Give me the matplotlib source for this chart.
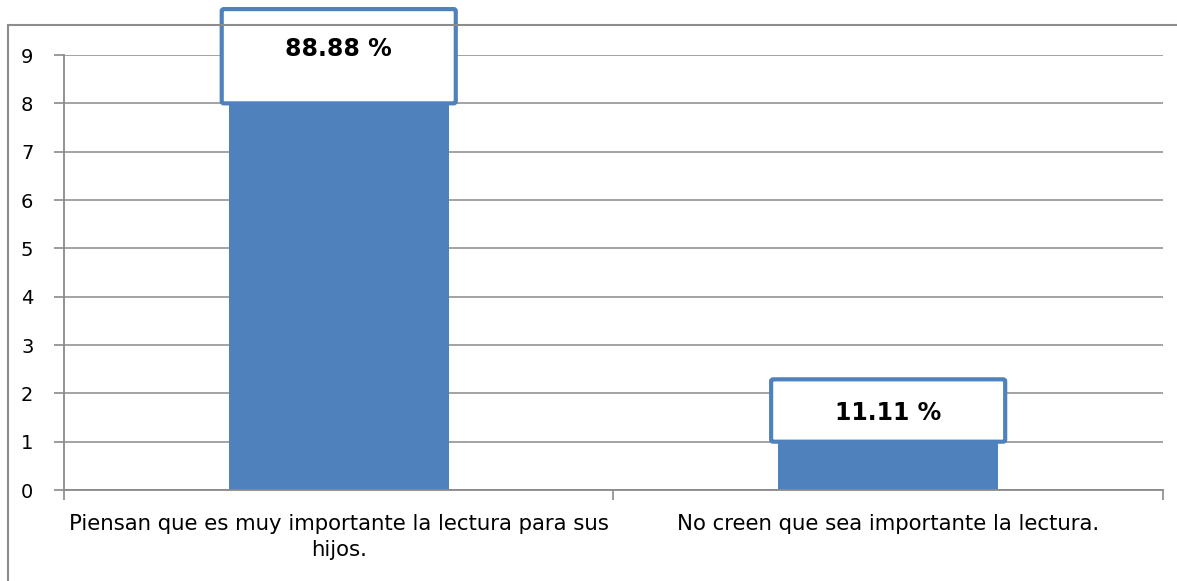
import matplotlib
matplotlib.use("Agg")
import matplotlib.pyplot as plt
from matplotlib.patches import FancyBboxPatch, Rectangle

categories = ["Piensan que es muy importante la lectura para sus\nhijos.",
              "No creen que sea importante la lectura."]
values = [8, 1]
labels = ["88.88 %", "11.11 %"]

bar_color = "#4F81BD"
grid_color = "#8a8a8a"

plt.rcParams['font.family'] = ['DejaVu Sans']

fig = plt.figure(figsize=(11.77, 5.81), dpi=100)
ax = fig.add_axes([0.0544, 0.1566, 0.988 - 0.0544, 0.9053 - 0.1566])

# outer chart frame
fig.patches.append(Rectangle((0.0068, -0.1), 1.1, 0.1 + (1 - 25 / 581), transform=fig.transFigure,
                             fill=False, edgecolor="#8c8c8c", linewidth=1.5))

x = list(range(len(values)))
ax.bar(x, values, width=0.4, color=bar_color, zorder=2)

# label boxes (top box taller, as in the original)
box_h = [1.95, 1.29]
text_off = [1.12, 0.6]
for xi, v, lab, bh, to in zip(x, values, labels, box_h, text_off):
    box = FancyBboxPatch((xi - 0.213, v), 0.426, bh, boxstyle="round,pad=0,rounding_size=0.004",
                         facecolor="white", edgecolor=bar_color, linewidth=3, zorder=4,
                         clip_on=False, mutation_aspect=10)
    ax.add_patch(box)
    ax.text(xi, v + to, lab, ha="center", va="center", fontsize=17, fontweight="bold",
            zorder=5, clip_on=False)

ax.set_xlim(-0.5, 1.5)
ax.set_ylim(0, 9)
ax.set_yticks(range(10))
ax.yaxis.grid(True, color=grid_color, linewidth=1.1, zorder=0)
ax.set_xticks([-0.5, 0.5, 1.5])
ax.set_xticklabels([])
ax.set_xticks(x, minor=True)
ax.set_xticklabels(categories, minor=True, fontsize=15.3, linespacing=1.4)
ax.tick_params(axis="x", which="minor", length=0, pad=17)
ax.tick_params(axis="x", which="major", length=7, width=1.2, color=grid_color, direction="out")
ax.tick_params(axis="y", length=7, width=1.2, color=grid_color, labelsize=14, pad=15)
for s in ["top", "right"]:
    ax.spines[s].set_visible(False)
for s in ["left", "bottom"]:
    ax.spines[s].set_color(grid_color)
    ax.spines[s].set_linewidth(1.3)
    ax.spines[s].set_zorder(3)

fig.savefig("out.png", dpi=100)
